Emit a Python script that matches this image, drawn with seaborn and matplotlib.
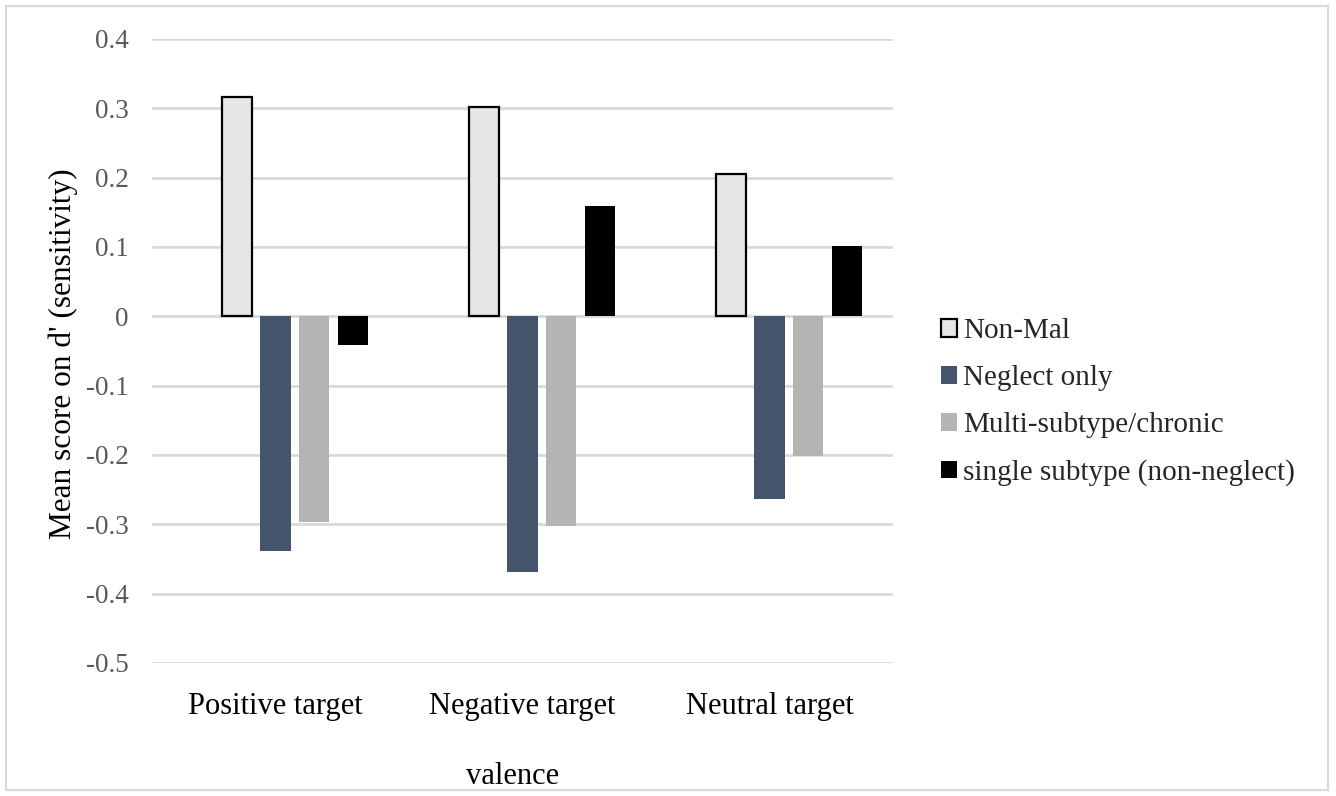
import matplotlib
matplotlib.use("Agg")
import matplotlib.pyplot as plt
from matplotlib.colors import to_rgba
from matplotlib.patches import Rectangle, Patch
import numpy as np
import seaborn as sns
import pandas as pd

# Mean d' per valence condition and maltreatment group
categories = ["Positive target", "Negative target", "Neutral target"]
groups = ["Non-Mal", "Neglect only", "Multi-subtype/chronic", "single subtype (non-neglect)"]
non_mal = [0.316, 0.302, 0.206]
neglect_only = [-0.338, -0.369, -0.264]
multi_subtype = [-0.297, -0.302, -0.202]
single_subtype = [-0.042, 0.159, 0.102]
y_ticks = [0.4, 0.3, 0.2, 0.1, 0, -0.1, -0.2, -0.3, -0.4, -0.5]
y_tick_labels = ["0.4", "0.3", "0.2", "0.1", "0", "-0.1", "-0.2", "-0.3", "-0.4", "-0.5"]

colors = ["#e7e6e6", "#44546a", "#b4b4b4", "#000000"]

# An unused leading slot keeps each cluster sitting right of its category label
spacer = " "
hue_levels = [spacer] + groups
palette = {spacer: "#ffffff", **dict(zip(groups, colors))}

rows = []
for g, vals in zip(groups, [non_mal, neglect_only, multi_subtype, single_subtype]):
    for c, v in zip(categories, vals):
        rows.append({"valence": c, "group": g, "score": v})
df = pd.DataFrame(rows)

sns.set_theme(style="white")
plt.rcParams["font.family"] = ["Liberation Serif", "DejaVu Serif"]

fig = plt.figure(figsize=(13.36, 7.96), dpi=100)
ax = fig.add_axes([152 / 1336, 1 - 663 / 796, (893 - 152) / 1336, (663 - 39) / 796])

sns.barplot(data=df, x="valence", y="score", hue="group", order=categories,
            hue_order=hue_levels, palette=palette, width=0.78, gap=0.22,
            linewidth=0, saturation=1, ax=ax, legend=False)

# Outline the light Non-Mal bars so they stand out against the background
light = np.array(to_rgba(colors[0]))
for bar in ax.patches:
    if np.allclose(np.array(bar.get_facecolor()), light, atol=0.01):
        bar.set_edgecolor("black")
        bar.set_linewidth(1.6)

ax.set_ylim(-0.5, 0.4)
ax.set_yticks(y_ticks)
ax.set_yticklabels(y_tick_labels)
ax.yaxis.grid(True, color="#d9d9d9", linewidth=2)
ax.xaxis.grid(False)
ax.set_axisbelow(True)
for s in ax.spines.values():
    s.set_visible(False)

ax.tick_params(axis="y", labelsize=19.5, labelcolor="#595959", length=0, pad=17)
ax.tick_params(axis="x", labelsize=22, labelcolor="black", length=0, pad=21)

ax.set_xlabel("valence", fontsize=22, color="black", va="center")
ax.xaxis.set_label_coords((513 - 152) / 741, -(777 - 663) / 624)
ax.set_ylabel("Mean score on d' (sensitivity)", fontsize=22.5, color="black", va="center")
ax.yaxis.set_label_coords(-(152 - 63) / 741, (663 - 354) / 624)

handles = [Patch(facecolor=colors[0], edgecolor="black", linewidth=1.6)] + \
          [Patch(facecolor=c, edgecolor="none") for c in colors[1:]]
ax.legend(handles, groups, loc="center left",
          bbox_to_anchor=((941 - 152) / 741, (663 - 402) / 624),
          frameon=False, fontsize=21, handlelength=0.55, handleheight=0.55,
          handletextpad=0.2, labelspacing=0.72, borderpad=0, borderaxespad=0)

fig.patches.append(Rectangle((6 / 1336, 6 / 796), 1322 / 1336, 784 / 796,
                             transform=fig.transFigure, fill=False,
                             edgecolor="#d9d9d9", linewidth=1.5))

fig.savefig("out.png", dpi=100)
